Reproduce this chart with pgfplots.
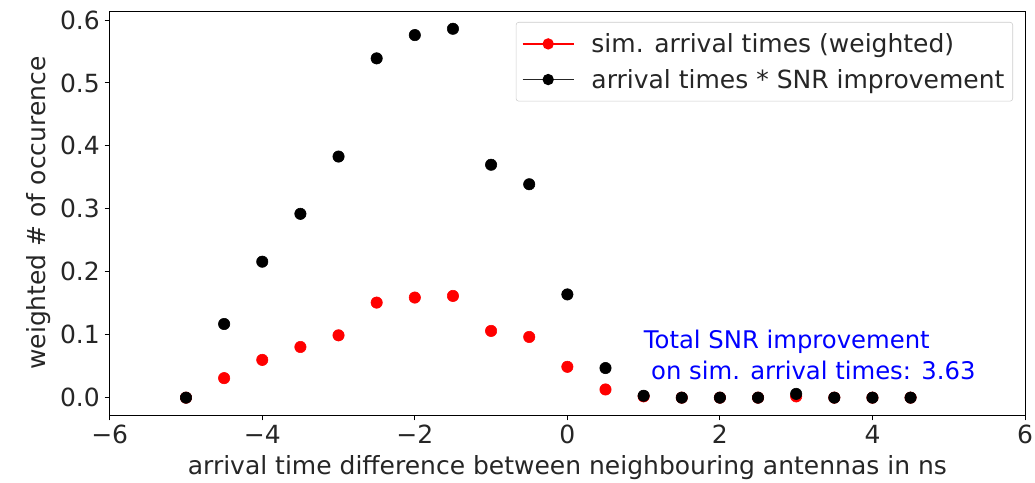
\documentclass[border=0pt]{standalone}
\usepackage{fontspec}
\setmainfont{DejaVu Sans}
\usepackage{pgfplots}
\pgfplotsset{compat=1.18}
\begin{document}
\begin{tikzpicture}
\useasboundingbox (-79.0pt,-48.7pt) rectangle (666.2pt,299.0pt);
\begin{axis}[
  at={(0,0)}, anchor=south west,
  scale only axis,
  width=659.0pt, height=291.1pt,
  xmin=-6, xmax=6.0, ymin=-0.028, ymax=0.6143,
  xtick={-6,-4,-2,0,2,4,6},
  xticklabels={−6,−4,−2,0,2,4,6},
  ytick={0,0.1,0.2,0.3,0.4,0.5,0.6},
  yticklabels={0.0,0.1,0.2,0.3,0.4,0.5,0.6},
  tick align=outside,
  xtick pos=bottom, ytick pos=left,
  major tick length=3.6pt,
  tick style={black, line width=0.6pt},
  axis line style={line width=0.6pt},
  ticklabel style={font=\fontsize{18}{21}\selectfont, text=black!85},
  label style={font=\fontsize{18}{21}\selectfont, text=black!85},
  xlabel={arrival time difference between neighbouring antennas in ns},
  xlabel style={yshift=-1pt},
  ylabel={weighted \# of occurence},
  legend style={at={(axis description cs:0.9869,0.9728)}, anchor=north east,
    draw=black!20, rounded corners=2pt, font=\fontsize{18}{21}\selectfont,
    text=black!85, inner xsep=4pt, inner ysep=6pt, row sep=6.5pt, column sep=10pt,
    cells={anchor=west}},
  legend image code/.code={\draw[mark repeat=2,mark phase=2,#1] plot coordinates {(0pt,0pt) (18.5pt,0pt) (37pt,0pt)};},
]
\addlegendimage{red, line width=1.3pt, mark=*, mark size=3.4pt, mark options={solid}}
\addlegendentry{sim. arrival times (weighted)\hspace{10pt}}
\addlegendimage{black!85, line width=1.3pt, mark=*, mark size=3.4pt, mark options={solid, black}}
\addlegendentry{arrival times * SNR improvement\hspace{10pt}}
\addplot[forget plot, only marks, mark=*, mark size=4.1pt, red, draw=none, fill=red] coordinates {
(-5,0) (-4.5,0.031) (-4,0.060) (-3.5,0.0805) (-3,0.099) (-2.5,0.151) (-2,0.159) (-1.5,0.1616)
(-1,0.106) (-0.5,0.0964) (0,0.049) (0.5,0.013) (1,0.002) (1.5,0) (2,0) (2.5,0) (3,0.002)
(3.5,0) (4,0) (4.5,0)};
\addplot[forget plot, only marks, mark=*, mark size=4.1pt, black, draw=none, fill=black] coordinates {
(-5,0) (-4.5,0.117) (-4,0.216) (-3.5,0.292) (-3,0.383) (-2.5,0.539) (-2,0.576) (-1.5,0.586)
(-1,0.370) (-0.5,0.339) (0,0.164) (0.5,0.047) (1,0.003) (1.5,0) (2,0) (2.5,0) (3,0.006)
(3.5,0) (4,0) (4.5,0)};
\node[anchor=base west, align=left, text=blue, font=\fontsize{17.5}{22.3}\selectfont, inner sep=0pt]
  at (axis cs:1.0,0.0292) {Total SNR improvement\\\hspace{0.3em}on sim. arrival times: 3.63};
\end{axis}
\end{tikzpicture}
\end{document}
